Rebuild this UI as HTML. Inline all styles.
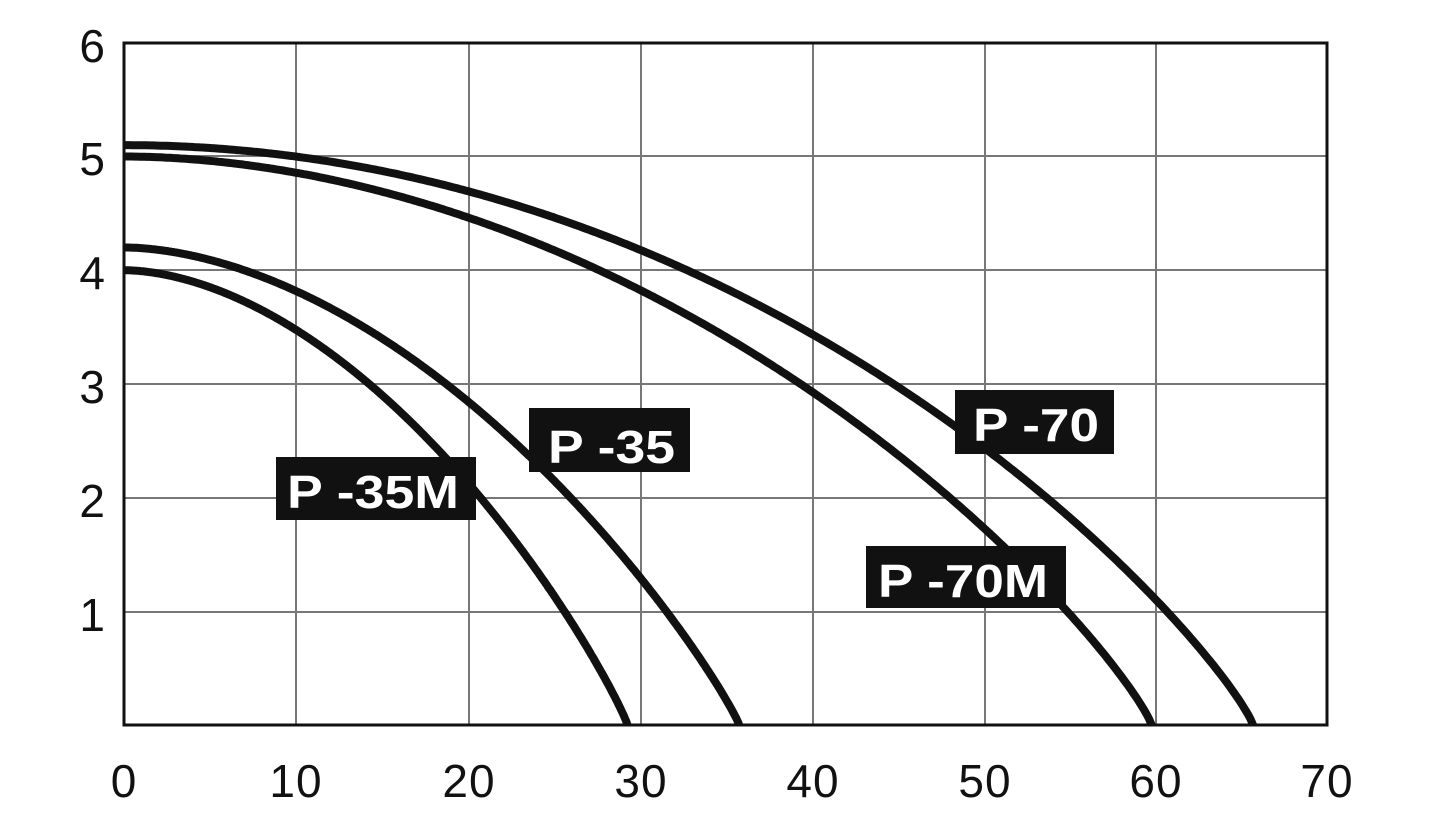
<!DOCTYPE html>
<html><head><meta charset="utf-8"><style>
html,body{margin:0;padding:0;background:#fff;}
svg{display:block;}
text{font-family:"Liberation Sans",sans-serif;}
</style></head><body>
<svg id="s" width="1436" height="817" viewBox="0 0 1436 817">
<g stroke="#777" stroke-width="2">
<line x1="296" y1="43" x2="296" y2="725"/><line x1="469" y1="43" x2="469" y2="725"/>
<line x1="641" y1="43" x2="641" y2="725"/><line x1="813" y1="43" x2="813" y2="725"/>
<line x1="985" y1="43" x2="985" y2="725"/><line x1="1156" y1="43" x2="1156" y2="725"/>
<line x1="124" y1="156" x2="1327" y2="156"/><line x1="124" y1="270" x2="1327" y2="270"/>
<line x1="124" y1="384" x2="1327" y2="384"/><line x1="124" y1="498" x2="1327" y2="498"/>
<line x1="124" y1="612" x2="1327" y2="612"/>
</g>
<rect x="124" y="43" width="1203" height="682" fill="none" stroke="#111" stroke-width="3"/>
<g id="curves" fill="none" stroke="#111" stroke-width="8"></g>
<g font-size="46" fill="#111" text-anchor="end" letter-spacing="1">
<text x="106" y="62">6</text><text x="106" y="175">5</text><text x="106" y="289">4</text>
<text x="106" y="403">3</text><text x="106" y="517">2</text><text x="106" y="631">1</text>
</g>
<g font-size="46" fill="#111" text-anchor="middle" letter-spacing="1">
<text x="124" y="797">0</text><text x="296" y="797">10</text><text x="469" y="797">20</text>
<text x="641" y="797">30</text><text x="813" y="797">40</text><text x="985" y="797">50</text>
<text x="1156" y="797">60</text><text x="1327" y="797">70</text>
</g>
<g>
<rect x="276" y="457" width="200" height="63" fill="#111"/>
<rect x="529" y="408" width="161" height="64" fill="#111"/>
<rect x="955" y="390" width="159" height="64" fill="#111"/>
<rect x="866" y="546" width="200" height="62" fill="#111"/>
</g>
<g font-size="46" font-weight="bold" fill="#fff">
<text x="287" y="508" textLength="172" lengthAdjust="spacingAndGlyphs">P -35M</text>
<text x="548" y="463" textLength="127" lengthAdjust="spacingAndGlyphs">P -35</text>
<text x="973" y="441" textLength="126" lengthAdjust="spacingAndGlyphs">P -70</text>
<text x="878" y="597" textLength="170" lengthAdjust="spacingAndGlyphs">P -70M</text>
</g>
</svg>
<script>
var g=document.getElementById('curves');
function px(q){return 124+q*1203/70;}
function py(h){return 725-h*113.7;}
var cs=[[5.1,65.7,2,0.85],[5.0,59.8,1.9,0.85],[4.2,35.8,1.8,0.9],[4.0,29.3,1.8,0.9]];
cs.forEach(function(c){var d='';for(var i=0;i<=400;i++){var r=i/400;var q=c[1]*r;var h=c[0]*Math.pow(Math.max(0,1-Math.pow(r,c[2])),c[3]);d+=(i?'L':'M')+px(q).toFixed(1)+','+py(h).toFixed(1);}
var p=document.createElementNS('http://www.w3.org/2000/svg','path');p.setAttribute('d',d);g.appendChild(p);});
</script>
</body></html>
